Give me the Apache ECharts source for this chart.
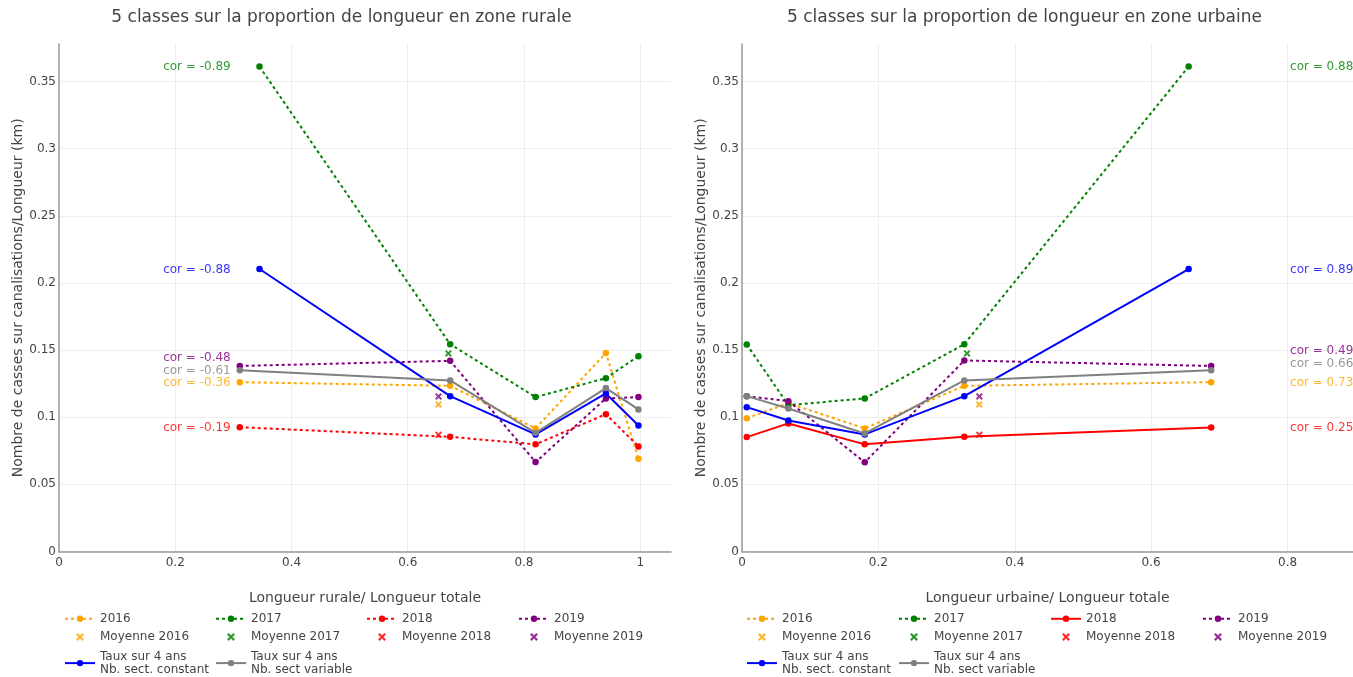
<!DOCTYPE html>
<html>
<head>
<meta charset="utf-8">
<script src="https://cdn.jsdelivr.net/npm/echarts@6/dist/echarts.min.js"></script>
<style>
html,body{margin:0;padding:0;background:#fff;}
#chart{width:1353px;height:677px;}
</style>
</head>
<body>
<div id="chart"></div>
<script>
// ---------------- DATA ----------------
// Rural plot (x = Longueur rurale / Longueur totale)
const xRural = [0.311, 0.673, 0.820, 0.941, 0.997];
const xRuralB = [0.345, 0.673, 0.820, 0.941, 0.997];   // 2017 and "Nb. sect. constant"
const r2016 = [0.1261, 0.1234, 0.0917, 0.1479, 0.0690];
const r2017 = [0.3612, 0.1544, 0.1150, 0.1291, 0.1455];
const r2018 = [0.0926, 0.0854, 0.0798, 0.1023, 0.0783];
const r2019 = [0.1382, 0.1420, 0.0666, 0.1140, 0.1150];
const rConst = [0.2104, 0.1157, 0.0872, 0.1177, 0.0939];
const rVar = [0.1350, 0.1274, 0.0884, 0.1217, 0.1058];
const rMoyX = [0.653, 0.670, 0.653, 0.653];
// Urban plot (x = Longueur urbaine / Longueur totale)
const xUrban = [0.007, 0.068, 0.180, 0.326, 0.688];
const xUrbanB = [0.007, 0.068, 0.180, 0.326, 0.655];
const u2016 = [0.0993, 0.1105, 0.0917, 0.1234, 0.1261];
const u2017 = [0.1542, 0.1090, 0.1140, 0.1544, 0.3612];
const u2018 = [0.0852, 0.0954, 0.0798, 0.0854, 0.0924];
const u2019 = [0.1157, 0.1120, 0.0664, 0.1423, 0.1382];
const uConst = [0.1075, 0.0976, 0.0872, 0.1157, 0.2104];
const uVar = [0.1157, 0.1065, 0.0879, 0.1274, 0.1350];
const uMoyX = [0.348, 0.330, 0.348, 0.348];
// Moyennes 2016..2019 (same in both plots)
const moyY = [0.1095, 0.1475, 0.0869, 0.1155];
// Correlations (order: 2017, const, 2019, var, 2016, 2018)
const corRural = ['-0.89', '-0.88', '-0.48', '-0.61', '-0.36', '-0.19'];
const corUrban = ['0.88', '0.89', '0.49', '0.66', '0.73', '0.25'];
const corRuralY = [0.3607, 0.2094, 0.1445, 0.1345, 0.1259, 0.0924];
const corUrbanY = [0.3612, 0.2100, 0.1494, 0.1400, 0.1259, 0.0924];
const years = ['2016', '2017', '2018', '2019'];
const titles = ['5 classes sur la proportion de longueur en zone rurale', '5 classes sur la proportion de longueur en zone urbaine'];
const xNames = ['Longueur rurale/ Longueur totale', 'Longueur urbaine/ Longueur totale'];
const yName = 'Nombre de casses sur canalisations/Longueur (km)';
const tauxLabels = ['Taux sur 4 ans\nNb. sect. constant', 'Taux sur 4 ans\nNb. sect variable'];

// ---------------- STYLE ----------------
const FONT = 'DejaVu Sans';
const TXT = '#444';
const C = {y2016: '#FFA500', y2017: '#008000', y2018: '#FF0000', y2019: '#800080', cst: '#0000FF', vr: '#808080'};
const yearColors = [C.y2016, C.y2017, C.y2018, C.y2019];
const corColors = [C.y2017, C.cst, C.y2019, C.vr, C.y2016, C.y2018];
const XPATH = 'path://M2,0 L5,3 L8,0 L10,2 L7,5 L10,8 L8,10 L5,7 L2,10 L0,8 L3,5 L0,2 Z';
const DOT = [3, 3];

const LABEL = {};
const series = [];
function pairs(xs, ys) { return xs.map((x, i) => [x, ys[i]]); }
function lineS(key, label, xs, ys, color, dotted, g) {
  LABEL[key] = label;
  series.push({
    type: 'line', name: key, xAxisIndex: g, yAxisIndex: g,
    data: pairs(xs, ys), symbol: 'circle', symbolSize: 6.5, showSymbol: true,
    lineStyle: {color: color, width: 2, type: dotted ? DOT : 'solid'},
    itemStyle: {color: color}, emphasis: {disabled: true}, animation: false
  });
}
function moyS(key, label, x, y, color, g) {
  LABEL[key] = label;
  series.push({
    type: 'scatter', name: key, xAxisIndex: g, yAxisIndex: g,
    data: [[x, y]], symbol: XPATH, symbolSize: 7,
    itemStyle: {color: color}, emphasis: {disabled: true}, animation: false
  });
}
function corS(g, labels, ys, xPos, pos) {
  series.push({
    type: 'scatter', name: 'cor' + g, xAxisIndex: g, yAxisIndex: g, silent: true,
    symbolSize: 0, animation: false,
    data: ys.map((y, i) => ({value: [xPos, y], label: {color: corColors[i]}})),
    label: {show: true, position: pos, distance: 0, fontFamily: FONT, fontSize: 12,
      formatter: p => 'cor = ' + labels[p.dataIndex]}
  });
}

const plots = [
  {p: 'r', g: 0, xs: xRural, xsB: xRuralB, ys: [r2016, r2017, r2018, r2019], c: rConst, v: rVar, mx: rMoyX, solid2018: false,
   cor: corRural, corY: corRuralY, corX: 0.2955, corPos: 'left'},
  {p: 'u', g: 1, xs: xUrban, xsB: xUrbanB, ys: [u2016, u2017, u2018, u2019], c: uConst, v: uVar, mx: uMoyX, solid2018: true,
   cor: corUrban, corY: corUrbanY, corX: 0.8037, corPos: 'right'}
];
plots.forEach(P => {
  years.forEach((yr, i) => {
    const dotted = !(P.solid2018 && i === 2);
    lineS(P.p + yr, yr, i === 1 ? P.xsB : P.xs, P.ys[i], yearColors[i], dotted, P.g);
  });
  years.forEach((yr, i) => moyS(P.p + 'm' + yr, 'Moyenne ' + yr, P.mx[i], moyY[i], yearColors[i], P.g));
  lineS(P.p + 'c', tauxLabels[0], P.xsB, P.c, C.cst, false, P.g);
  lineS(P.p + 'v', tauxLabels[1], P.xs, P.v, C.vr, false, P.g);
  corS(P.g, P.cor, P.corY, P.corX, P.corPos);
});

// ---------------- LAYOUT ----------------
const grids = [
  {left: 59, top: 44, width: 612, height: 507.5},
  {left: 742, top: 44, width: 611, height: 507.5}
];
const xMax = [1.053, 0.896];
const axisLineStyle = {color: '#999', width: 1.5};
function fmt(v, step) {
  const k = Math.round(v / step);
  if (Math.abs(v - k * step) > 1e-6) return '';
  return String(+(k * step).toFixed(2));
}
const xAxis = [0, 1].map(g => ({
  type: 'value', gridIndex: g, min: 0, max: xMax[g], interval: 0.2,
  name: xNames[g], nameLocation: 'middle', nameGap: 39.5,
  nameTextStyle: {fontFamily: FONT, fontSize: 14, color: TXT},
  axisLine: {show: true, onZero: false, lineStyle: axisLineStyle},
  axisTick: {show: false},
  axisLabel: {fontFamily: FONT, fontSize: 12, color: TXT, margin: 5, showMaxLabel: false,
    formatter: v => fmt(v, 0.2)},
  splitLine: {show: true, showMaxLine: false, lineStyle: {color: '#eee', width: 1}}
}));
const yAxis = [0, 1].map(g => ({
  type: 'value', gridIndex: g, min: 0, max: 0.378, interval: 0.05,
  name: yName, nameLocation: 'middle', nameGap: 34,
  nameTextStyle: {fontFamily: FONT, fontSize: 14, color: TXT},
  axisLine: {show: true, onZero: false, lineStyle: axisLineStyle},
  axisTick: {show: false},
  axisLabel: {fontFamily: FONT, fontSize: 12, color: TXT, margin: 3, showMaxLabel: false,
    formatter: v => fmt(v, 0.05)},
  splitLine: {show: true, showMaxLine: false, lineStyle: {color: '#eee', width: 1}}
}));

const colLeftR = [64, 215, 366, 518];
const colLeftU = [746, 898, 1050, 1202];
const legends = [];
function addLegend(left, top, items) {
  legends.push({
    orient: 'vertical', left: left, top: top, padding: 0, itemGap: 5.5,
    itemWidth: 30, itemHeight: 8, selectedMode: false,
    data: items,
    formatter: n => LABEL[n],
    textStyle: {fontFamily: FONT, fontSize: 12, color: TXT, lineHeight: 12.6}
  });
}
[['r', colLeftR], ['u', colLeftU]].forEach(([p, cols]) => {
  cols.forEach((lx, i) => addLegend(lx, 612.5, [p + years[i], p + 'm' + years[i]]));
  addLegend(cols[0], 650.5, [p + 'c']);
  addLegend(cols[1], 650.5, [p + 'v']);
});

const option = {
  backgroundColor: '#fff',
  animation: false,
  grid: grids,
  xAxis: xAxis,
  yAxis: yAxis,
  legend: legends,
  graphic: [
    {type: 'text', x: 341.5, y: 18, style: {text: titles[0], align: 'center', verticalAlign: 'middle', fontFamily: FONT, fontSize: 17, fill: TXT}},
    {type: 'text', x: 1024.5, y: 18, style: {text: titles[1], align: 'center', verticalAlign: 'middle', fontFamily: FONT, fontSize: 17, fill: TXT}}
  ],
  series: series
};
const chart = echarts.init(document.getElementById('chart'), null, {renderer: 'canvas'});
chart.setOption(option);
</script>
</body>
</html>
